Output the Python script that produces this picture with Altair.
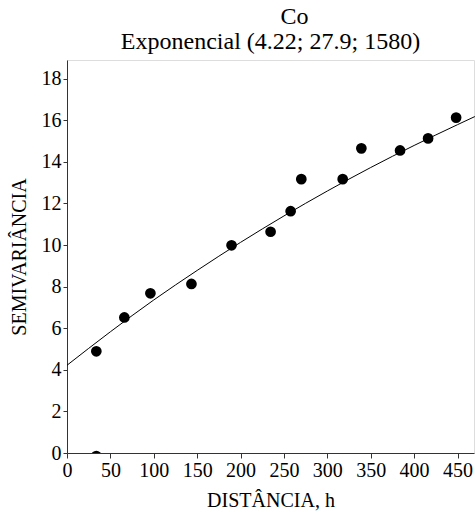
import altair as alt
import pandas as pd

# Experimental semivariance points
dist = [33.8, 66.1, 96.1, 143.4, 189.6, 234.6, 257.7, 270.0, 317.7, 339.2, 383.8, 416.1, 448.4, 33.8]
semiv = [4.89, 6.52, 7.68, 8.13, 9.99, 10.64, 11.63, 13.17, 13.17, 14.65, 14.55, 15.13, 16.13, -0.15]

# Fitted model curve
model_h = [0, 50, 100, 150, 200, 250, 300, 350, 400, 450, 470]
model_g = [4.22, 5.83, 7.36, 8.78, 10.13, 11.40, 12.60, 13.73, 14.79, 15.79, 16.18]

x_ticks = [0, 50, 100, 150, 200, 250, 300, 350, 400, 450]
y_ticks = [0, 2, 4, 6, 8, 10, 12, 14, 16, 18]

pts = pd.DataFrame({"h": dist, "g": semiv})
mdl = pd.DataFrame({"h": model_h, "g": model_g})

FONT = "Liberation Serif"

xs = alt.Scale(domain=[0, 469], nice=False, zero=False)
ys = alt.Scale(domain=[0, 18.9], nice=False, zero=False)

x_axis = alt.Axis(values=x_ticks, title="DISTÂNCIA, h", grid=False, tickSize=5,
                  labelPadding=2, titlePadding=10, labelFontSize=20, titleFontSize=20,
                  labelFont=FONT, titleFont=FONT, labelColor="black", titleColor="black",
                  titleFontWeight="normal", domainColor="#333", tickColor="#333",
                  labelFlush=False)
y_axis = alt.Axis(values=y_ticks, title="SEMIVARIÂNCIA", grid=False, tickSize=4,
                  labelPadding=2, titlePadding=12, labelFontSize=20, titleFontSize=20,
                  labelFont=FONT, titleFont=FONT, labelColor="black", titleColor="black",
                  titleFontWeight="normal", domainColor="#333", tickColor="#333",
                  labelFlush=False)

line = alt.Chart(mdl).mark_line(color="black", strokeWidth=1, interpolate="monotone").encode(
    x=alt.X("h:Q", scale=xs, axis=x_axis),
    y=alt.Y("g:Q", scale=ys, axis=y_axis),
)

points = alt.Chart(pts).mark_point(filled=True, color="black", opacity=1, size=115,
                                     shape="circle", clip=True).encode(
    x=alt.X("h:Q", scale=xs),
    y=alt.Y("g:Q", scale=ys),
)

title_lines = ["\u200b" + "\u00a0" * 8 + "Co", "Exponencial (4.22; 27.9; 1580)"]

chart = alt.layer(line, points).properties(
    width=407,
    height=393,
    title=alt.TitleParams(text=title_lines, font=FONT, fontSize=24, fontWeight="normal",
                          color="black", lineHeight=25, offset=6, anchor="middle"),
    padding={"left": 67, "top": 60, "right": 1, "bottom": 64},
    autosize=alt.AutoSizeParams(type="none"),
).configure_view(stroke=None).configure(background="white", font=FONT)

chart.save("out.html", embed_options={"renderer": "svg", "actions": False})
